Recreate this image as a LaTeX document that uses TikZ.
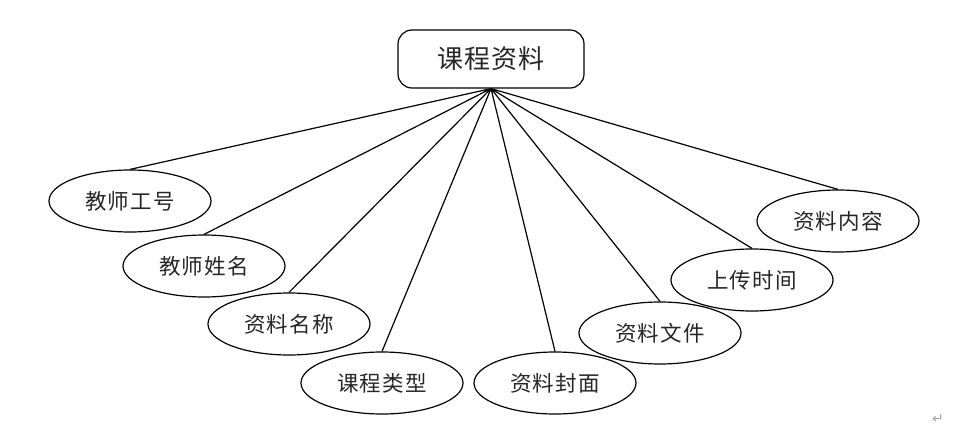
\documentclass[tikz,border=0pt]{standalone}
\usepackage{fontspec}
\newfontfamily\cjk[LetterSpace=5]{Noto Sans CJK SC}
\newfontfamily\cjktop[LetterSpace=4]{Noto Sans CJK SC}
\newfontfamily\dejavu{DejaVu Sans}
\usetikzlibrary{shapes.geometric}
\tikzset{
	attr/.style={ellipse,draw,line width=1.2pt,minimum width=162pt,minimum height=62pt,inner sep=0pt,text=black!85,font=\cjk\fontsize{21.5}{21.5}\selectfont},
	entity/.style={rectangle,rounded corners=14pt,draw,line width=1.2pt,minimum width=186pt,minimum height=58pt,text=black!85,font=\cjktop\fontsize{26}{26}\selectfont},
	link/.style={line width=1.2pt}
}
\begin{document}
\begin{tikzpicture}[x=1pt,y=-1pt]
\useasboundingbox (0,0) rectangle (978,444);
% entity
\node[entity] (res) at (491,59) {课程资料};
% attributes
\node[attr] (tno)   at (130,201) {教师工号};
\node[attr] (tname) at (204,266) {教师姓名};
\node[attr] (rname) at (289,324) {资料名称};
\node[attr] (ctype) at (382,383) {课程类型};
\node[attr] (cover) at (555,383) {资料封面};
\node[attr] (rfile) at (660,333) {资料文件};
\node[attr] (utime) at (752,280) {上传时间};
\node[attr] (rcont) at (838,221) {资料内容};
% links
\draw[link]
	(res.south)--(tno.north)
	(res.south)--(tname.north)
	(res.south)--(rname.north)
	(res.south)--(ctype.north)
	(res.south)--(cover.north)
	(res.south)--(rfile.north)
	(res.south)--(utime.north)
	(res.south)--(rcont.north)
	;
% paragraph mark
\node[text=gray!70,font=\dejavu\fontsize{14}{14}\selectfont] (mark) at (938,419) {↵};
\end{tikzpicture}
\end{document}
